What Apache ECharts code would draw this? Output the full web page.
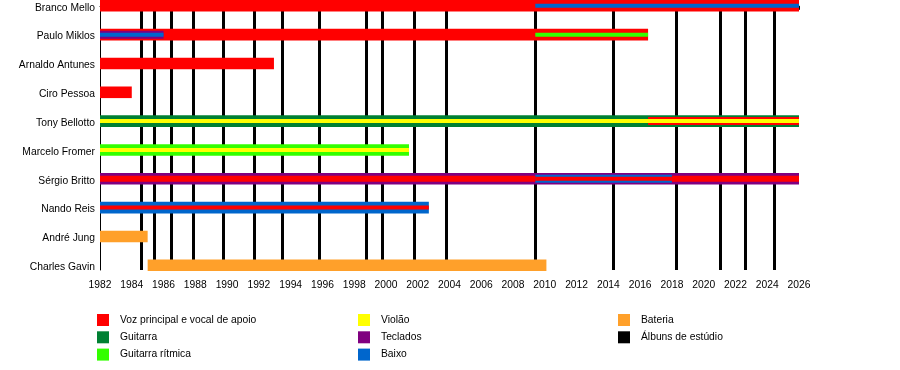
<!DOCTYPE html>
<html>
<head>
<meta charset="utf-8">
<script src="https://cdn.jsdelivr.net/npm/echarts@6/dist/echarts.min.js"></script>
<style>html,body{margin:0;padding:0;background:#fff;}#c{width:900px;height:370px;}</style>
</head>
<body>
<div id="c"></div>
<script>
// ---- data ----
const members = ['Branco Mello','Paulo Miklos','Arnaldo Antunes','Ciro Pessoa','Tony Bellotto','Marcelo Fromer','Sérgio Britto','Nando Reis','André Jung','Charles Gavin'];
const roles = ['Voz principal e vocal de apoio','Guitarra','Guitarra rítmica','Violão','Teclados','Baixo','Bateria','Álbuns de estúdio'];
const xTicksFrom = 1982, xTicksTo = 2026;
// [memberIndex, from, till, roleIndex]
const outerBars = [
  [0,1982,2026,0],
  [1,1982,2016.5,0],
  [2,1982,1992.95,0],
  [3,1982,1984.0,0],
  [4,1982,2026,1],
  [5,1982,2001.45,2],
  [6,1982,2026,4],
  [7,1982,2002.7,5],
  [8,1982,1985.0,6],
  [9,1985.0,2010.1,6]
];
const middleBars = [
  [1,1982,1986.0,4],
  [4,2016.5,2026,0],
  [6,2009.4,2018.0,5]
];
const stripeBars = [
  [6,1982,2009.4,0],
  [6,2018.0,2026,0]
];
const innerBars = [
  [0,2009.4,2026,5],
  [1,1982,1986.0,5],
  [1,2009.4,2016.5,2],
  [4,1982,2026,3],
  [5,1982,2001.45,3],
  [6,2009.4,2018.0,0],
  [7,1982,2002.7,0]
];
const albumYears = [1984.62,1985.42,1986.51,1987.87,1989.76,1991.71,1993.50,1995.80,1998.79,1999.77,2001.78,2003.78,2009.40,2014.31,2018.28,2021.05,2022.62,2024.45];

// ---- style ----
const roleColors = ['#ff0000','#008033','#33ff00','#ffff00','#800080','#0066cc','#ffa02a','#000000'];
const FONT = 'Liberation Sans, Arial, sans-serif';

function makeRender(h){
  return function(params, api){
    const row = api.value(0);
    const s = api.coord([api.value(1), row]);
    const e = api.coord([api.value(2), row]);
    return {type:'rect', shape:{x:s[0], y:s[1]-h/2, width:e[0]-s[0], height:h},
      style:{fill: roleColors[api.value(3)]}};
  };
}
function barSeries(data, h, z){
  return {type:'custom', renderItem: makeRender(h), data: data, z: z, silent:true,
    encode:{x:[1,2], y:0}, clip:false};
}

const legendSeries = roles.slice(0,7).map((r,i)=>({name:r, type:'line', data:[], color: roleColors[i]}));

const legendCommon = {orient:'vertical', top:314, padding:0, itemGap:5.3, itemWidth:12, itemHeight:12, icon:'rect',
  textStyle:{color:'#000', fontSize:10.3, fontFamily:FONT, padding:[0,0,0,6]}, selectedMode:false};

const chart = echarts.init(document.getElementById('c'), null, {renderer:'canvas'});
chart.setOption({
  animation:false,
  backgroundColor:'#fff',
  textStyle:{fontFamily:FONT},
  grid:{left:100, top:0, width:699, height:270, containLabel:false},
  xAxis:{type:'value', min:xTicksFrom, max:xTicksTo, interval:2,
    axisLine:{show:true, lineStyle:{color:'#000', width:1}},
    axisTick:{show:true, length:4, lineStyle:{color:'#000'}},
    minorTick:{show:true, splitNumber:2, length:3, lineStyle:{color:'#000'}},
    splitLine:{show:false},
    axisLabel:{color:'#000', fontSize:10.3, fontFamily:FONT, margin:10, formatter: v => String(v)}
  },
  yAxis:{type:'value', min:-0.2012, max:9.164, inverse:true,
    axisLine:{show:true, lineStyle:{color:'#000', width:1}},
    axisTick:{show:false},
    splitLine:{show:false},
    axisLabel:{show:true, color:'#000', fontSize:10.3, fontFamily:FONT, margin:5,
      customValues:[0,1,2,3,4,5,6,7,8,9],
      formatter: v => '{n|' + (members[Math.round(v)] || '') + '}',
      rich:{n:{color:'#000', fontSize:10.3, fontFamily:FONT, padding:[4,0,0,0]}}}
  },
  legend:[
    Object.assign({data:roles.slice(0,3), left:97}, legendCommon),
    Object.assign({data:roles.slice(3,6), left:358}, legendCommon),
    Object.assign({data:roles.slice(6,8), left:618}, legendCommon)
  ],
  series:[
    {name: roles[7], type:'line', data:[], color:'#000', z:1,
      markLine:{silent:true, z:1, symbol:['none','none'], label:{show:false}, animation:false,
        lineStyle:{color:'#000', width:3, type:'solid'},
        data: albumYears.map(y=>({xAxis:y}))}},
    barSeries(outerBars, 11.6, 10),
    barSeries(middleBars, 8, 11),
    barSeries(stripeBars, 6, 12),
    barSeries(innerBars, 4, 13)
  ].concat(legendSeries)
});
</script>
</body>
</html>
